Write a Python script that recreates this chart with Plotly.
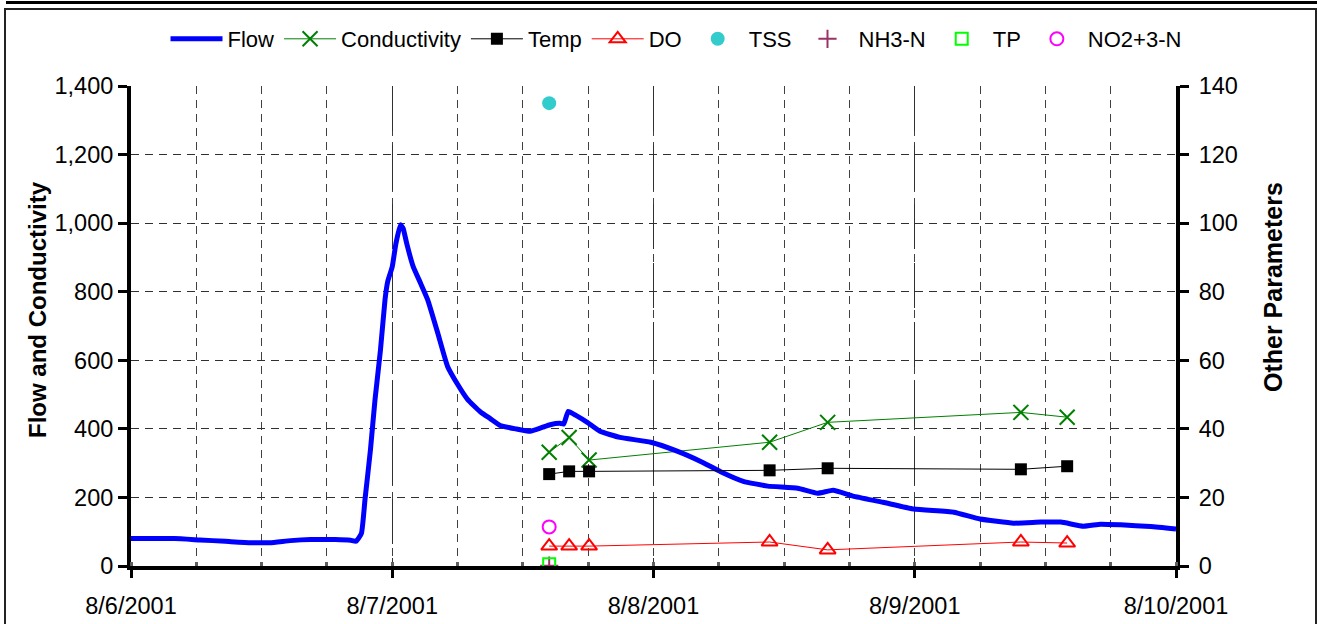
import plotly.graph_objects as go

# ---------------- data ----------------
flow_time = [
    "2001-08-06 00:00", "2001-08-06 01:45", "2001-08-06 04:00", "2001-08-06 06:20",
    "2001-08-06 08:40", "2001-08-06 11:00", "2001-08-06 12:45", "2001-08-06 14:40",
    "2001-08-06 16:30", "2001-08-06 18:45", "2001-08-06 20:10", "2001-08-06 20:40",
    "2001-08-06 21:10", "2001-08-06 21:30", "2001-08-06 22:00", "2001-08-06 22:25",
    "2001-08-06 22:55", "2001-08-06 23:20", "2001-08-06 23:35", "2001-08-07 00:00",
    "2001-08-07 00:20", "2001-08-07 00:45", "2001-08-07 01:00", "2001-08-07 01:20",
    "2001-08-07 01:55", "2001-08-07 02:35", "2001-08-07 03:15", "2001-08-07 04:10",
    "2001-08-07 05:05", "2001-08-07 06:00", "2001-08-07 06:55", "2001-08-07 08:05",
    "2001-08-07 09:00", "2001-08-07 09:55", "2001-08-07 11:20", "2001-08-07 12:40",
    "2001-08-07 13:50", "2001-08-07 14:30", "2001-08-07 15:25", "2001-08-07 15:45",
    "2001-08-07 16:10", "2001-08-07 16:50", "2001-08-07 17:55", "2001-08-07 19:05",
    "2001-08-07 20:55", "2001-08-07 23:45", "2001-08-08 02:10", "2001-08-08 04:20",
    "2001-08-08 06:10", "2001-08-08 08:15", "2001-08-08 10:30", "2001-08-08 13:15",
    "2001-08-08 15:05", "2001-08-08 16:30", "2001-08-08 18:20", "2001-08-08 21:05",
    "2001-08-08 23:55", "2001-08-09 03:35", "2001-08-09 06:00", "2001-08-09 09:05",
    "2001-08-09 11:35", "2001-08-09 13:25", "2001-08-09 15:30", "2001-08-09 17:05",
    "2001-08-09 18:55", "2001-08-09 21:40", "2001-08-10 00:00",
]
flow_value = [
    80, 80, 80, 76,
    72, 68, 68, 74,
    77, 77, 75, 72,
    95, 195, 340, 485,
    630, 776, 830, 873,
    940, 995, 985, 940,
    874, 826, 777, 681,
    582, 530, 486, 450,
    430, 410, 400, 393,
    405, 412, 416, 414,
    451, 440, 419, 393,
    375, 361, 335, 305,
    275, 247, 233, 227,
    212, 221, 204, 186,
    166, 157, 137, 125,
    128, 128, 116, 122,
    120, 115, 108,
]

sample_time = [
    "2001-08-07 14:25", "2001-08-07 16:15", "2001-08-07 18:05",
    "2001-08-08 10:40", "2001-08-08 16:00", "2001-08-09 09:45", "2001-08-09 14:00",
]
conductivity = [332, 375, 309, 361, 419, 448, 434]
temp = [26.8, 27.6, 27.6, 27.9, 28.5, 28.2, 29.1]
do = [5.8, 5.8, 5.8, 7.0, 4.7, 7.0, 6.7]

grab_time = ["2001-08-07 14:25"]
tss = [135]
nh3_n = [0.1]
tp = [0.5]
no23_n = [11.4]

x_ticks = ["2001-08-06", "2001-08-07", "2001-08-08", "2001-08-09", "2001-08-10"]
x_tick_labels = ["8/6/2001", "8/7/2001", "8/8/2001", "8/9/2001", "8/10/2001"]

# ---------------- figure ----------------
FONT = "Liberation Sans, Arial, sans-serif"
fig = go.Figure()

fig.add_trace(go.Scatter(
    x=sample_time, y=conductivity, name="Conductivity", mode="lines+markers",
    line=dict(color="#008000", width=1),
    marker=dict(symbol="x-thin", size=15, line=dict(color="#008000", width=2)),
    legendrank=2, yaxis="y"))
fig.add_trace(go.Scatter(
    x=flow_time, y=flow_value, name="Flow", mode="lines",
    line=dict(color="#0000FF", width=5, shape="spline", smoothing=0.4),
    legendrank=1, yaxis="y"))
fig.add_trace(go.Scatter(
    x=sample_time, y=temp, name="Temp", mode="lines+markers",
    line=dict(color="#000000", width=1),
    marker=dict(symbol="square", size=12, color="#000000"),
    legendrank=3, yaxis="y2"))
fig.add_trace(go.Scatter(
    x=sample_time, y=do, name="DO", mode="lines+markers",
    line=dict(color="#FF0000", width=1),
    marker=dict(symbol="triangle-up-open", size=14, color="#FF0000",
                line=dict(color="#FF0000", width=2)),
    legendrank=4, yaxis="y2"))
fig.add_trace(go.Scatter(
    x=grab_time, y=tss, name="TSS", mode="markers",
    marker=dict(symbol="circle", size=14, color="#33CCCC"),
    legendrank=5, yaxis="y2"))
fig.add_trace(go.Scatter(
    x=grab_time, y=nh3_n, name="NH3-N", mode="markers",
    marker=dict(symbol="cross-thin", size=13, line=dict(color="#993366", width=2)),
    legendrank=6, yaxis="y2"))
fig.add_trace(go.Scatter(
    x=grab_time, y=tp, name="TP", mode="markers",
    marker=dict(symbol="square-open", size=12, color="#00FF00",
                line=dict(color="#00FF00", width=2)),
    legendrank=7, yaxis="y2"))
fig.add_trace(go.Scatter(
    x=grab_time, y=no23_n, name="NO2+3-N", mode="markers",
    marker=dict(symbol="circle-open", size=13, color="#FF00FF",
                line=dict(color="#FF00FF", width=2)),
    legendrank=8, yaxis="y2"))

PX_L, PX_R, PX_T, PX_B = 131, 1176, 86, 566
def px_x(px):
    return (px - PX_L) / (PX_R - PX_L)
def px_y(py):
    return (PX_B - py) / (PX_B - PX_T)

fig.update_layout(
    width=1317, height=624,
    margin=dict(l=PX_L, r=1317 - PX_R, t=PX_T, b=624 - PX_B, autoexpand=False),
    paper_bgcolor="white", plot_bgcolor="white",
    font=dict(family=FONT, size=21, color="black"),
    showlegend=True,
    legend=dict(orientation="h", x=px_x(676), xanchor="center", y=px_y(39), yanchor="middle",
                font=dict(size=22), bgcolor="rgba(0,0,0,0)", traceorder="normal",
                itemwidth=52),
    xaxis=dict(
        type="date", range=["2001-08-06", "2001-08-10"],
        tickmode="array", tickvals=x_ticks, ticktext=x_tick_labels,
        showline=True, linecolor="black", linewidth=4,
        ticks="outside", ticklen=8, tickwidth=3, tickcolor="black",
        ticklabelstandoff=8, automargin=False,
        showgrid=True, gridcolor="#303030", gridwidth=1, griddash="45px,14px",
        minor=dict(dtick=6 * 3600 * 1000, showgrid=True, gridcolor="#404040",
                   griddash="8px,6px", ticks="inside", ticklen=4, tickcolor="#606060"),
        tickfont=dict(size=23.5), zeroline=False,
    ),
    yaxis=dict(
        range=[0, 1400], dtick=200, tickformat=",d",
        showline=True, linecolor="black", linewidth=4,
        ticks="outside", ticklen=9, tickwidth=3, tickcolor="black",
        showgrid=True, gridcolor="#303030", gridwidth=1, griddash="8px,6px",
        zeroline=False, tickfont=dict(size=23.5), automargin=False,
    ),
    yaxis2=dict(
        range=[0, 140], dtick=20, overlaying="y", side="right",
        showline=True, linecolor="black", linewidth=4,
        ticks="outside", ticklen=9, tickwidth=3, tickcolor="black",
        ticklabelstandoff=5, automargin=False,
        showgrid=False, zeroline=False, tickfont=dict(size=23.5),
    ),
    annotations=[
        dict(text="<b>Flow and Conductivity</b>", xref="paper", yref="paper",
             x=px_x(37), y=px_y(310), textangle=-90, showarrow=False,
             xanchor="center", yanchor="middle", font=dict(size=24)),
        dict(text="<b>Other Parameters</b>", xref="paper", yref="paper",
             x=px_x(1273), y=px_y(287), textangle=-90, showarrow=False,
             xanchor="center", yanchor="middle", font=dict(size=25)),
    ],
    shapes=[
        # outer chart border and top rule line (decoration)
        dict(type="rect", xref="paper", yref="paper",
             x0=px_x(5), x1=px_x(1316), y0=px_y(640), y1=px_y(9),
             line=dict(color="#222222", width=2), layer="below"),
        dict(type="line", xref="paper", yref="paper",
             x0=px_x(6), x1=px_x(1317), y0=px_y(2.5), y1=px_y(2.5),
             line=dict(color="black", width=3), layer="below"),
    ],
)

fig.write_html("out.html")
